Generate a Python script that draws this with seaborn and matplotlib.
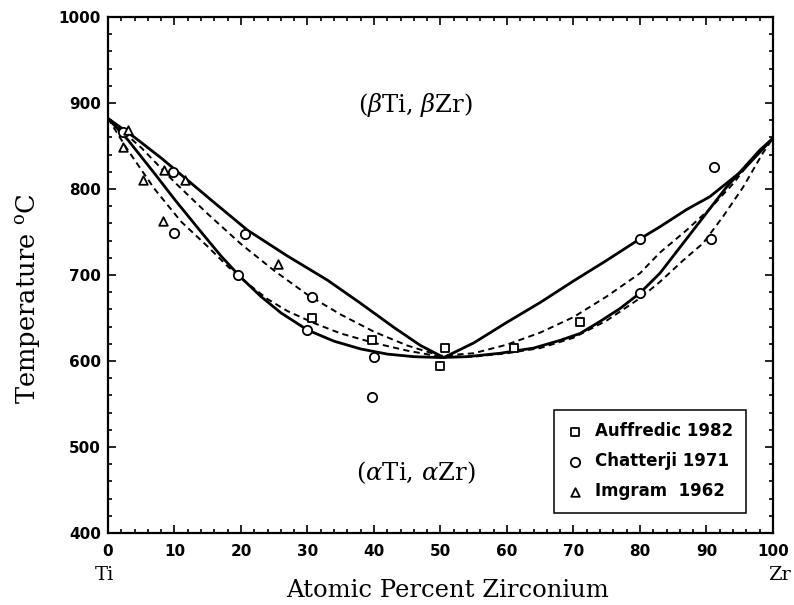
import numpy as np
import pandas as pd
import matplotlib
matplotlib.use("Agg")
import matplotlib.pyplot as plt
import seaborn as sns
from matplotlib.ticker import MultipleLocator

# phase boundaries (at.% Zr, deg C)
solid_upper_x = [0, 4, 8, 12, 16, 21, 27, 33, 38, 43, 47, 50.5,
                 55, 60, 65, 70, 75, 80, 83, 87, 90.5, 95.5, 100]
solid_upper_t = [882, 860, 836, 810, 784, 752, 722, 694, 667, 639, 618, 604,
                 621, 645, 668, 693, 717, 742, 756, 776, 791, 822, 859]

solid_lower_x = [0, 3, 7, 10, 14, 17, 20, 23, 26, 30, 34, 38, 42, 46, 50,
                 54, 59, 64, 68, 71, 74, 77, 80, 83, 88, 93, 98, 100]
solid_lower_t = [882, 857, 818, 788, 750, 722, 697, 675, 656, 636, 623, 614, 608, 605, 604,
                 605, 609, 615, 624, 632, 646, 661, 679, 702, 752, 802, 845, 859]

dash_upper_x = [0, 5, 10, 15, 20, 25, 30, 35, 40, 45, 50,
                55, 60, 65, 70, 75, 80, 83, 87, 90.5, 94, 97, 100]
dash_upper_t = [882, 848, 808, 771, 736, 705, 677, 654, 634, 618, 606,
                609, 619, 633, 651, 675, 702, 726, 752, 777, 806, 836, 859]

dash_lower_x = [0, 3, 7, 11, 15, 18, 21, 24, 27, 31, 35, 40, 45, 50,
                55, 60, 65, 70, 75, 80, 83, 86.5, 89.5, 92.5, 95.5, 98.5, 100]
dash_lower_t = [882, 845, 800, 762, 733, 710, 690, 672, 658, 644, 632, 621, 612, 605,
                605, 609, 615, 627, 647, 673, 692, 717, 737, 768, 802, 842, 859]

# experimental points
auffredic_x = [30.7, 39.7, 50.7, 50.0, 61.0, 71.0]
auffredic_t = [650, 624, 615, 594, 615, 645]
chatterji_x = [2.3, 9.8, 10.0, 19.6, 20.6, 30.7, 30.0, 40.0, 39.7, 80.0, 80.0, 90.7, 91.1]
chatterji_t = [866, 820, 749, 700, 748, 674, 636, 605, 558, 742, 679, 742, 826]
imgram_x = [2.3, 3.0, 5.3, 8.4, 8.3, 11.6, 25.6]
imgram_t = [849, 868, 810, 822, 763, 810, 713]

sns.set_style("ticks")
plt.rcParams["font.family"] = ["DejaVu Sans"]
plt.rcParams["mathtext.fontset"] = "dejavuserif"
for key in ["text.color", "axes.labelcolor", "xtick.color", "ytick.color", "axes.edgecolor"]:
    plt.rcParams[key] = "black"

fig = plt.figure(figsize=(7.94, 6.05), dpi=100)
ax = fig.add_axes([0.136, 0.119, 0.8375, 0.853])

for xs, ts in [(solid_upper_x, solid_upper_t), (solid_lower_x, solid_lower_t)]:
    sns.lineplot(x=xs, y=ts, sort=False, estimator=None, color="black",
                 lw=2.0, ax=ax)
for xs, ts in [(dash_upper_x, dash_upper_t), (dash_lower_x, dash_lower_t)]:
    sns.lineplot(x=xs, y=ts, sort=False, estimator=None, color="black",
                 lw=1.4, ax=ax, linestyle=(0, (3.2, 2.2)))

sns.scatterplot(x=auffredic_x, y=auffredic_t, marker="s", s=30, facecolor="white",
                edgecolor="black", linewidth=1.3, ax=ax, label="Auffredic 1982", zorder=5)
sns.scatterplot(x=chatterji_x, y=chatterji_t, marker="o", s=45, facecolor="white",
                edgecolor="black", linewidth=1.3, ax=ax, label="Chatterji 1971", zorder=5)
sns.scatterplot(x=imgram_x, y=imgram_t, marker="^", s=38, facecolor="white",
                edgecolor="black", linewidth=1.3, ax=ax, label="Imgram  1962", zorder=5)

ax.set_xlim(0, 100)
ax.set_ylim(400, 1000)
ax.xaxis.set_major_locator(MultipleLocator(10))
ax.xaxis.set_minor_locator(MultipleLocator(2))
ax.yaxis.set_major_locator(MultipleLocator(100))
ax.yaxis.set_minor_locator(MultipleLocator(20))
ax.tick_params(which="both", direction="in", top=True, right=True, width=1.2)
ax.tick_params(which="major", length=6)
ax.tick_params(which="minor", length=3)
ax.tick_params(axis="x", pad=8)
ax.tick_params(axis="y", pad=5)
for lab in ax.get_xticklabels() + ax.get_yticklabels():
    lab.set_fontweight("bold")
    lab.set_fontsize(11)
for sp in ax.spines.values():
    sp.set_linewidth(1.6)
    sp.set_visible(True)

ax.set_xlabel("Atomic Percent Zirconium", family="DejaVu Serif", fontsize=17.5,
              va="baseline")
ax.xaxis.set_label_coords(0.51, -0.124)
ax.set_ylabel("Temperature $^{\\mathrm{o}}$C", family="DejaVu Serif", fontsize=18.5)
ax.yaxis.set_label_coords(-0.098, 0.455)

ax.text(46.2, 898, "($\\beta$Ti, $\\beta$Zr)", family="DejaVu Serif", fontsize=17.5,
        ha="center", va="center")
ax.text(46.3, 470, "($\\alpha$Ti, $\\alpha$Zr)", family="DejaVu Serif", fontsize=17.5,
        ha="center", va="center")
ax.text(-0.6, -0.082, "Ti", transform=ax.get_xaxis_transform(), family="DejaVu Serif",
        fontsize=14, ha="center", va="center")
ax.text(101, -0.082, "Zr", transform=ax.get_xaxis_transform(), family="DejaVu Serif",
        fontsize=14, ha="center", va="center")

leg = ax.legend(loc="lower right", bbox_to_anchor=(0.959, 0.039), borderaxespad=0,
                frameon=True, fancybox=False, edgecolor="black", framealpha=1,
                prop={"weight": "bold", "size": 12}, handlelength=1.0,
                handletextpad=0.7, labelspacing=0.72, borderpad=0.75)
leg.get_frame().set_linewidth(1.1)

fig.savefig("out.png", dpi=100)
